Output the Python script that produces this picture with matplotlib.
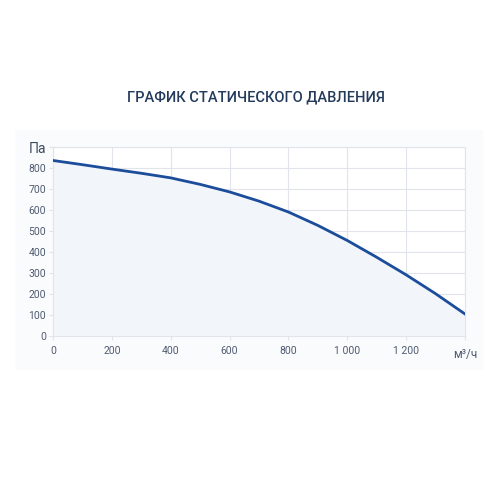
import matplotlib.pyplot as plt
from matplotlib.patches import Rectangle

plt.rcParams['font.family'] = ['Roboto', 'DejaVu Sans']

# airflow, m3/h and static pressure, Pa
flow = [0, 100, 200, 300, 400, 500, 600, 700, 800, 900, 1000, 1100, 1200, 1300, 1400]
pressure = [838, 818, 797, 777, 755, 724, 688, 644, 592, 528, 456, 376, 292, 202, 105]

x_ticks = [0, 200, 400, 600, 800, 1000, 1200, 1400]
x_labels = ["0", "200", "400", "600", "800", "1 000", "1 200", "м³/ч"]
y_ticks = [0, 100, 200, 300, 400, 500, 600, 700, 800, 900]
y_labels = ["0", "100", "200", "300", "400", "500", "600", "700", "800", "Па"]

fig = plt.figure(figsize=(5, 5), dpi=100)
fig.patches.append(Rectangle((0.03, 0.26), 0.935, 0.48, transform=fig.transFigure,
                             facecolor="#fafbfd", edgecolor="none", zorder=-1))

ax = fig.add_axes([0.106, 0.328, 0.824, 0.377])
ax.set_zorder(2)
ax.set_facecolor("white")

ax.fill_between(flow, pressure, 0, color="#f2f5fa", zorder=1)
ax.plot(flow, pressure, color="#1b4d9b", linewidth=2.0, zorder=3)

ax.set_xlim(0, 1400)
ax.set_ylim(0, 900)
ax.set_xticks(x_ticks)
ax.set_xticklabels(x_labels)
ax.set_yticks(y_ticks)
ax.set_yticklabels(y_labels)

ax.grid(True, color="#e1e4ea", linewidth=0.8, zorder=0)
ax.set_axisbelow(True)
for s in ax.spines.values():
    s.set_color("#e1e4ea")
    s.set_linewidth(0.8)

ax.tick_params(axis="both", colors="#e1e4ea", labelcolor="#4f5b70",
               labelsize=7.5, length=3, width=0.8)
ax.tick_params(axis="x", pad=4)
ax.tick_params(axis="y", pad=2)
ax.get_yticklabels()[-1].set_fontsize(10)
ax.get_yticklabels()[-1].set_color("#3d4a5e")
ax.get_xticklabels()[-1].set_fontsize(8.5)
ax.get_xticklabels()[-1].set_y(-0.012)

fig.text(0.512, 0.806, "ГРАФИК СТАТИЧЕСКОГО ДАВЛЕНИЯ", ha="center", va="center",
         fontsize=10.5, fontweight="medium", color="#243b5c")

fig.savefig("out.png", dpi=100, facecolor="white")
